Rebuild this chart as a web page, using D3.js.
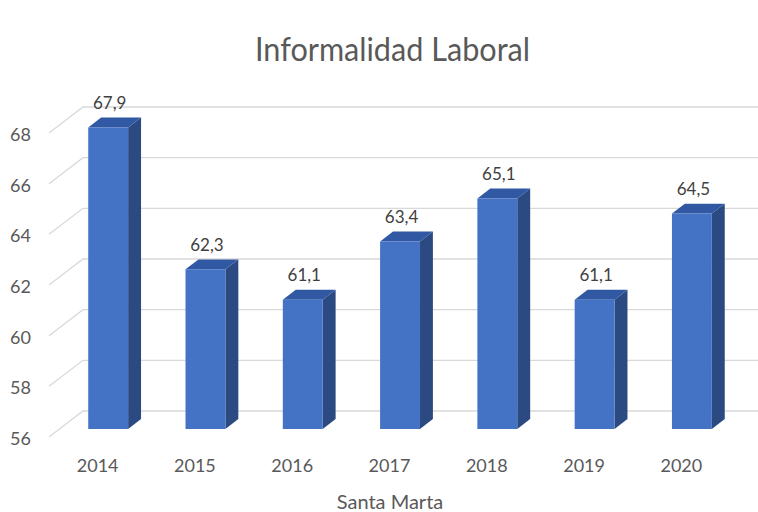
<!DOCTYPE html>
<html><head><meta charset="utf-8">
<script src="https://cdn.jsdelivr.net/npm/d3@7"></script>
<style>html,body{margin:0;padding:0;background:#fff;}svg{display:block;}</style>
</head><body>
<svg id="chart" width="758" height="512"></svg>
<script>
const categories = ["2014","2015","2016","2017","2018","2019","2020"];
const values = [67.9, 62.3, 61.1, 63.4, 65.1, 61.1, 64.5];
const valueLabels = ["67,9","62,3","61,1","63,4","65,1","61,1","64,5"];
const yTicks = [56, 58, 60, 62, 64, 66, 68];
const title = "Informalidad Laboral";
const xTitle = "Santa Marta";

const svg = d3.select("#chart");
const font = "Lato, 'Open Sans', sans-serif";
const textCol = "#595959";

// 3D projection: depth d in [0,1] shifts (dx, dy)
const DX = 34, DY = -26;
const x = d3.scaleBand().domain(categories).range([49, 730]).padding(0);
const y = d3.scaleLinear().domain([56, 68]).range([437, 133]);
const P = (px, v, d) => [px + DX * d, y(v) + DY * d];

// gridlines (left wall diagonal + back wall)
const grid = svg.append("g");
yTicks.forEach(t => {
  const a = P(49, t, 0), b = P(49, t, 1), c = P(760, t, 1);
  grid.append("polyline")
    .attr("points", [a, b, c].map(p => p.join(",")).join(" "))
    .attr("fill", "none").attr("stroke", "#d9d9d9").attr("stroke-width", 1.3);
});

// y tick labels
svg.append("g").selectAll("text").data(yTicks).join("text")
  .attr("x", 31).attr("y", d => y(d) + 1)
  .attr("text-anchor", "end").attr("dominant-baseline", "central")
  .attr("font-family", font).attr("font-size", 18).attr("fill", textCol)
  .text(d => d);

// bars
const dFront = 0.31, dBack = 0.69;
const barW = x.bandwidth() * 0.41;
const bars = svg.append("g");
categories.forEach((c, i) => {
  const cx = x(c) + x.bandwidth() / 2;
  const xl = cx - barW / 2, xr = cx + barW / 2;
  const v = values[i];
  const fbl = P(xl, 56, dFront), fbr = P(xr, 56, dFront);
  const ftl = P(xl, v, dFront), ftr = P(xr, v, dFront);
  const btl = P(xl, v, dBack), btr = P(xr, v, dBack), bbr = P(xr, 56, dBack);
  const poly = pts => pts.map(p => p.join(",")).join(" ");
  bars.append("polygon").attr("points", poly([fbr, ftr, btr, bbr])).attr("fill", "#2b4a82");
  bars.append("polygon").attr("points", poly([ftl, ftr, btr, btl])).attr("fill", "#3159a3");
  bars.append("polygon").attr("points", poly([fbl, ftl, ftr, fbr])).attr("fill", "#4472c4");
  const lp = P(cx + 1.5, v, dFront);
  bars.append("text").attr("x", lp[0]).attr("y", lp[1] - 18.5)
    .attr("text-anchor", "middle").attr("font-family", font).attr("font-size", 17)
    .attr("fill", "#404040").text(valueLabels[i]);
});

// x labels
svg.append("g").selectAll("text").data(categories).join("text")
  .attr("x", d => x(d) + x.bandwidth() / 2)
  .attr("y", 472)
  .attr("text-anchor", "middle")
  .attr("font-family", font).attr("font-size", 18).attr("fill", textCol)
  .text(d => d);

// title
svg.append("text").attr("x", 392.5).attr("y", 61)
  .attr("text-anchor", "middle").attr("font-family", font).attr("font-size", 32)
  .attr("fill", textCol).attr("textLength", 275).attr("lengthAdjust", "spacingAndGlyphs")
  .text(title);

// x axis title
svg.append("text").attr("x", 390).attr("y", 509)
  .attr("text-anchor", "middle").attr("font-family", font).attr("font-size", 20)
  .attr("fill", textCol).text(xTitle);
</script>
</body></html>
